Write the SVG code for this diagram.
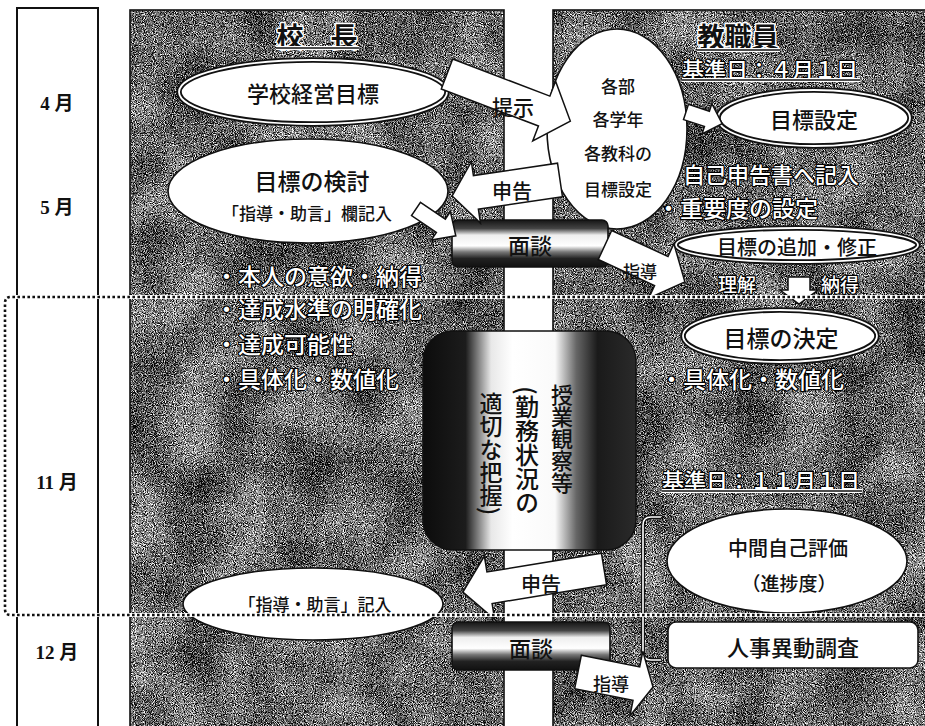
<svg xmlns="http://www.w3.org/2000/svg" width="925" height="726" viewBox="0 0 925 726">
<defs>
<style>
text{font-family:"Noto Sans CJK JP","Noto Sans CJK SC",sans-serif;}
.t{fill:#111;text-anchor:middle;dominant-baseline:central;font-weight:500}
.ol{fill:#fff;stroke:#000;stroke-width:2.4;paint-order:stroke;stroke-linejoin:round;dominant-baseline:central;font-weight:500}
.hd{fill:#111;stroke:#fff;stroke-width:3;paint-order:stroke;stroke-linejoin:round;text-anchor:middle;dominant-baseline:central;font-weight:700}
.m{font-family:"Liberation Serif","Noto Sans CJK JP",serif;font-weight:700;font-size:19px;fill:#111;text-anchor:middle;dominant-baseline:central}
.arr{fill:#fff;stroke:#111;stroke-width:1.5;stroke-linejoin:miter}
.e1{fill:#fff;stroke:#111;stroke-width:1.6}
.e2o{fill:#fff;stroke:#111;stroke-width:5.5}
.e2i{fill:none;stroke:#fff;stroke-width:1.8}
.pan{stroke:#111;stroke-width:1.6;fill:none}
.vt{writing-mode:vertical-rl;fill:#111;font-weight:500}
.ulw{stroke:#fff;stroke-width:4}
.ulb{stroke:#111;stroke-width:1.5}
.dotw{fill:none;stroke:#fff;stroke-width:4}
.dotb{fill:none;stroke:#111;stroke-width:2.6;stroke-dasharray:2.6 2.4}
.men{fill:url(#cyl);stroke:#111;stroke-width:1.6}
</style>
<filter id="grain" x="0" y="0" width="1" height="1" color-interpolation-filters="sRGB">
<feTurbulence type="fractalNoise" baseFrequency="1.1" numOctaves="1" seed="4" result="n1"/>
<feColorMatrix in="n1" type="matrix" values="1 0 0 0 0 1 0 0 0 0 1 0 0 0 0 0 0 0 0 1" result="g1"/>
<feTurbulence type="fractalNoise" baseFrequency="0.018" numOctaves="2" seed="9" result="n2"/>
<feColorMatrix in="n2" type="matrix" values="1 0 0 0 0 1 0 0 0 0 1 0 0 0 0 0 0 0 0 1" result="g2"/>
<feComposite in="g1" in2="g2" operator="arithmetic" k1="0" k2="2.6" k3="0.6" k4="-1.2"/>
</filter>
<linearGradient id="cyl" x1="0" y1="0" x2="0" y2="1">
<stop offset="0" stop-color="#151515"/>
<stop offset="0.18" stop-color="#444"/>
<stop offset="0.32" stop-color="#eee"/>
<stop offset="0.55" stop-color="#fff"/>
<stop offset="0.68" stop-color="#777"/>
<stop offset="0.82" stop-color="#222"/>
<stop offset="1" stop-color="#111"/>
</linearGradient>
<linearGradient id="obs" x1="0" y1="0" x2="1" y2="0">
<stop offset="0" stop-color="#0c0c0c"/>
<stop offset="0.2" stop-color="#1c1c1c"/>
<stop offset="0.32" stop-color="#e8e8e8"/>
<stop offset="0.42" stop-color="#fff"/>
<stop offset="0.62" stop-color="#fafafa"/>
<stop offset="0.72" stop-color="#666"/>
<stop offset="0.82" stop-color="#1a1a1a"/>
<stop offset="1" stop-color="#2a2a2a"/>
</linearGradient>
</defs>

<rect x="0" y="0" width="925" height="726" fill="#fff"/>

<g id="month-column">
<path d="M17,740 V8 H98 V740" fill="none" stroke="#111" stroke-width="2"/>
<text class="m" x="57" y="103">4 月</text>
<text class="m" x="57" y="207">5 月</text>
<text class="m" x="57" y="482">11 月</text>
<text class="m" x="57" y="652">12 月</text>
</g>

<g id="panel-principal">
<rect x="130" y="10" width="374" height="730" filter="url(#grain)"/>
<rect class="pan" x="130" y="10" width="374" height="730"/>
<text class="hd" x="317" y="35" font-size="27">校　長</text>
<line class="ulw" x1="276" y1="48" x2="359" y2="48"/>
<line class="ulb" x1="276" y1="48" x2="359" y2="48"/>
<text class="ol" x="215" y="275" font-size="23">・本人の意欲・納得</text>
<text class="ol" x="215" y="308" font-size="23">・達成水準の明確化</text>
<text class="ol" x="215" y="343" font-size="23">・達成可能性</text>
<text class="ol" x="215" y="378" font-size="23">・具体化・数値化</text>
</g>

<g id="panel-staff">
<rect x="553" y="10" width="380" height="730" filter="url(#grain)"/>
<rect class="pan" x="553" y="10" width="380" height="730"/>
<text class="hd" x="738" y="35" font-size="27">教職員</text>
<line class="ulw" x1="697" y1="50" x2="780" y2="50"/>
<line class="ulb" x1="697" y1="50" x2="780" y2="50"/>
<text class="ol" x="682" y="68" font-size="22">基準日：４月１日</text>
<line class="ulw" x1="682" y1="80" x2="860" y2="80"/>
<line class="ulb" x1="682" y1="80" x2="860" y2="80"/>
<text class="ol" x="683" y="173" font-size="22">自己申告書へ記入</text>
<text class="ol" x="657" y="207" font-size="23">・重要度の設定</text>
<text class="ol" x="737" y="283" font-size="19" text-anchor="middle">理解</text>
<text class="ol" x="840" y="283" font-size="19" text-anchor="middle">納得</text>
<text class="ol" x="660" y="378" font-size="23">・具体化・数値化</text>
<text class="ol" x="662" y="479" font-size="22">基準日：１１月１日</text>
<line class="ulw" x1="662" y1="491" x2="862" y2="491"/>
<line class="ulb" x1="662" y1="491" x2="862" y2="491"/>
<path d="M661,517 H651 Q643,517 643,525 V652 Q643,660 651,660 H661" fill="none" stroke="#111" stroke-width="4"/>
<path d="M661,517 H651 Q643,517 643,525 V652 Q643,660 651,660 H661" fill="none" stroke="#fff" stroke-width="1.6"/>
</g>

<g id="node-school-goal">
<ellipse class="e2o" cx="313" cy="92" rx="134" ry="32"/>
<ellipse class="e2i" cx="313" cy="92" rx="134" ry="32"/>
<text class="t" x="313" y="92" font-size="22">学校経営目標</text>
</g>

<g id="node-goal-review">
<ellipse class="e1" cx="308" cy="191" rx="140" ry="52"/>
<text class="t" x="312" y="180" font-size="23">目標の検討</text>
<text class="t" x="307" y="212" font-size="17">「指導・助言」欄記入</text>
</g>

<g id="node-dept-goal">
<ellipse class="e1" cx="617" cy="129" rx="70" ry="100"/>
<text class="t" x="618" y="85" font-size="17">各部</text>
<text class="t" x="618" y="118" font-size="17">各学年</text>
<text class="t" x="618" y="152" font-size="17">各教科の</text>
<text class="t" x="618" y="188" font-size="17">目標設定</text>
</g>

<g id="node-goal-setting">
<ellipse class="e2o" cx="814" cy="118" rx="96" ry="28"/>
<ellipse class="e2i" cx="814" cy="118" rx="96" ry="28"/>
<text class="t" x="814" y="118" font-size="22">目標設定</text>
</g>

<g id="node-goal-revise">
<ellipse class="e2o" cx="797" cy="245" rx="121" ry="17"/>
<ellipse class="e2i" cx="797" cy="245" rx="121" ry="17"/>
<text class="t" x="797" y="246" font-size="20">目標の追加・修正</text>
</g>

<g id="node-goal-decide">
<ellipse class="e2o" cx="780" cy="336" rx="97" ry="26"/>
<ellipse class="e2i" cx="780" cy="336" rx="97" ry="26"/>
<text class="t" x="781" y="337" font-size="23">目標の決定</text>
</g>

<g id="node-observation">
<rect x="423" y="331" width="213" height="219" rx="30" fill="url(#obs)" stroke="#111" stroke-width="1.5"/>
<text class="vt" x="562" y="384" font-size="22">授業観察等</text>
<text class="vt" x="527" y="386" font-size="24">(勤務状況の</text>
<text class="vt" x="491" y="392" font-size="23">適切な把握)</text>
</g>

<g id="node-interview-1">
<rect class="men" x="452" y="220" width="156" height="47" rx="6"/>
<text class="t" x="530" y="244" font-size="22" font-weight="700">面談</text>
</g>

<g id="node-midterm">
<ellipse class="e1" cx="787" cy="561" rx="120" ry="52" stroke-width="2.4"/>
<text class="t" x="788" y="547" font-size="20">中間自己評価</text>
<text class="t" x="789" y="582" font-size="19">（進捗度）</text>
</g>

<g id="node-advice">
<ellipse class="e1" cx="313" cy="604" rx="130" ry="36"/>
<text class="t" x="315" y="603" font-size="17">「指導・助言」記入</text>
</g>

<g id="node-interview-2">
<rect class="men" x="452" y="622" width="158" height="48" rx="6"/>
<text class="t" x="531" y="647" font-size="22" font-weight="700">面談</text>
</g>

<g id="node-transfer">
<rect x="668" y="622" width="250" height="46" rx="8" fill="#fff" stroke="#111" stroke-width="1.6"/>
<text class="t" x="793" y="646" font-size="22">人事異動調査</text>
</g>

<g id="connectors">
<path class="arr" transform="translate(447,74) rotate(20.9)" d="M0,-16 L104,-16 L104,-32 L132,0 L104,32 L104,16 L0,16 Z"/>
<path class="arr" transform="translate(686,112) rotate(18)" d="M0,-8 L22,-8 L22,-16 L38,0 L22,16 L22,8 L0,8 Z"/>
<path class="arr" transform="translate(560,180) rotate(171.6)" d="M0,-17 L85,-17 L85,-31 L109,0 L85,31 L85,17 L0,17 Z"/>
<path class="arr" transform="translate(416,209) rotate(34)" d="M0,-8 L30,-8 L30,-17 L48,0 L30,17 L30,8 L0,8 Z"/>
<path class="arr" transform="translate(605,245) rotate(24.8)" d="M0,-16 L62,-16 L62,-30 L88,0 L62,30 L62,16 L0,16 Z"/>
<path class="arr" d="M788,277 H810 V290 H818 L799,304 L780,290 H788 Z"/>
<path class="arr" transform="translate(604,569) rotate(170.7)" d="M0,-16 L116,-16 L116,-32 L143,0 L116,32 L116,16 L0,16 Z"/>
<path class="arr" transform="translate(578,672) rotate(11.3)" d="M0,-17 L59.5,-17 L59.5,-33 L76.5,0 L59.5,33 L59.5,17 L0,17 Z"/>
<text class="t" x="513" y="106" font-size="21">提示</text>
<text class="t" x="512" y="190" font-size="20">申告</text>
<text class="t" x="640" y="270" font-size="17">指導</text>
<text class="t" x="541" y="583" font-size="20">申告</text>
<text class="t" x="611" y="683" font-size="18">指導</text>
</g>

<g id="period-frame">
<path class="dotw" d="M925,297 H11 Q5,297 5,303 V609 Q5,615 11,615 H925"/>
<path class="dotb" d="M925,297 H11 Q5,297 5,303 V609 Q5,615 11,615 H925"/>
</g>
</svg>
